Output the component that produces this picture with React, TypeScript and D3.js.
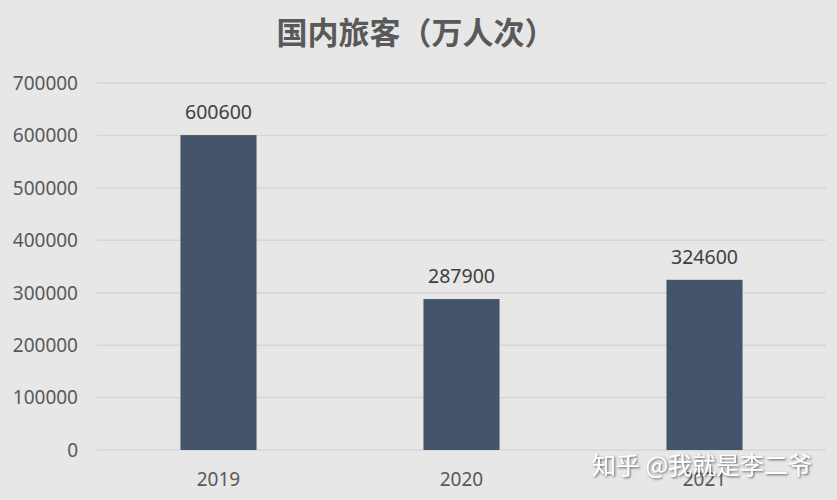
import React from "react";
import * as d3 from "d3";

const categories = ["2019", "2020", "2021"];
const values = [600600, 287900, 324600];
const yTicks = [0, 100000, 200000, 300000, 400000, 500000, 600000, 700000];
const title = "国内旅客（万人次）";
const watermark = "知乎 @我就是李二爷";

export default function App() {
  const W = 837, H = 500;
  const x = d3.scaleBand<string>().domain(categories).range([97, 826]).paddingInner(0.687).paddingOuter(0.3435);
  const y = d3.scaleLinear().domain([0, 700000]).range([450, 83]);
  const font = "'Noto Sans CJK SC', 'Noto Sans', sans-serif";
  const numFont = "'Noto Sans', 'Open Sans', sans-serif";
  return (
    <svg width={W} height={H} style={{ position: "absolute", left: 0, top: 0, display: "block" }}>
      <defs>
        <filter id="sh" x="-10%" y="-30%" width="120%" height="160%">
          <feDropShadow dx="1.2" dy="1.2" stdDeviation="0.9" floodColor="#444" floodOpacity="0.8" />
        </filter>
      </defs>
      <rect x={0} y={0} width={W} height={H} fill="#e7e7e7" />
      <text x={416} y={44} textAnchor="middle" fontFamily={font} fontSize={31} fontWeight={600} fill="#595959">{title}</text>
      {yTicks.map((t) => (
        <g key={t}>
          <line x1={97} x2={826} y1={y(t)} y2={y(t)} stroke="#d6d6d6" strokeWidth={1.5} />
          <text x={78} y={y(t)} dy="0.36em" textAnchor="end" fontFamily={numFont} fontSize={19} fill="#595959">{t}</text>
        </g>
      ))}
      {categories.map((c, i) => (
        <g key={c}>
          <rect x={x(c)} y={y(values[i])} width={x.bandwidth()} height={y(0) - y(values[i])} fill="#44546a" />
          <text x={(x(c) as number) + x.bandwidth() / 2} y={y(values[i]) - 16} textAnchor="middle" fontFamily={numFont} fontSize={19.5} fill="#404040">{values[i]}</text>
          <text x={(x(c) as number) + x.bandwidth() / 2} y={486} textAnchor="middle" fontFamily={numFont} fontSize={19} fill="#595959">{c}</text>
        </g>
      ))}
      <text x={592} y={474} fontFamily={font} fontSize={24} fill="#ffffff" filter="url(#sh)">{watermark}</text>
    </svg>
  );
}
